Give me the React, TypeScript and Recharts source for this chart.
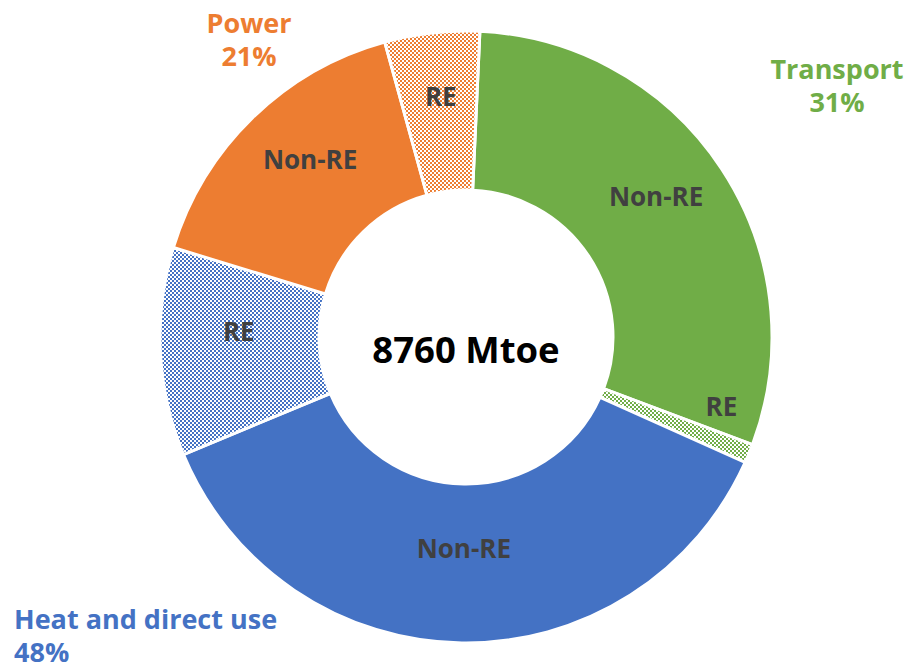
import { PieChart, Pie, Cell, Label } from 'recharts'

// ─── Data ────────────────────────────────────────────────────────────────────

const sectors = ['Transport', 'Heat and direct use', 'Power']
const sectorShares = [31, 48, 21]

const parts = ['Non-RE', 'RE', 'Non-RE', 'RE', 'Non-RE', 'RE']
const partSectors = ['Transport', 'Transport', 'Heat and direct use', 'Heat and direct use', 'Power', 'Power']
const partShares = [30, 1, 37, 11, 16, 5]

const totalLabel = '8760 Mtoe'

// ─── Styles ──────────────────────────────────────────────────────────────────

const FONT = '"Open Sans", "Noto Sans", sans-serif'
const SECTOR_COLOR: Record<string, string> = {
  'Transport': '#70AD47',
  'Heat and direct use': '#4472C4',
  'Power': '#ED7D31',
}
const PATTERN_ID: Record<string, string> = {
  'Transport': 'hatch-transport',
  'Heat and direct use': 'hatch-heat',
  'Power': 'hatch-power',
}

const sectorData = sectors.map((name, i) => ({ name, value: sectorShares[i] }))
const partData = parts.map((name, i) => ({ name, sector: partSectors[i], value: partShares[i] }))

const CX = 466
const CY = 337
const RAD = Math.PI / 180

// small label nudges (Excel puts the tiny transport RE label inside the big slice)
const PART_NUDGE: Array<[number, number]> = [
  [1, -16], [46, -17], [1, -15], [-1, -17], [2, -16], [0, -16],
]

function partLabel(props: any) {
  const { cx, cy, midAngle, innerRadius, outerRadius, index, name } = props
  const r = (innerRadius + outerRadius) / 2
  const [dx, dy] = PART_NUDGE[index] ?? [0, 0]
  const x = cx + r * Math.cos(-midAngle * RAD) + dx
  const y = cy + r * Math.sin(-midAngle * RAD) + dy
  return (
    <text x={x} y={y} textAnchor="middle" dominantBaseline="central"
      fill="#404040" fontFamily={FONT} fontWeight={700} fontSize={26}>
      {name}
    </text>
  )
}

// where the sector titles sit, relative to the pie centre
const SECTOR_LABEL_POS: Record<string, { dx: number; dy: number; anchor: 'start' | 'middle' }> = {
  'Transport': { dx: 371, dy: -269, anchor: 'middle' },
  'Heat and direct use': { dx: -452, dy: 281, anchor: 'start' },
  'Power': { dx: -217, dy: -315, anchor: 'middle' },
}

function sectorLabel(props: any) {
  const { cx, cy, name, value } = props
  const pos = SECTOR_LABEL_POS[name]
  if (!pos) return null
  const x = cx + pos.dx
  const y = cy + pos.dy
  return (
    <text x={x} y={y} textAnchor={pos.anchor} dominantBaseline="central"
      fill={SECTOR_COLOR[name]} fontFamily={FONT} fontWeight={700} fontSize={27}>
      <tspan x={x} dy={0}>{name}</tspan>
      <tspan x={x} dy={33}>{`${value}%`}</tspan>
    </text>
  )
}

function centerLabel(props: any) {
  const vb = props.viewBox ?? {}
  const cx = vb.cx ?? CX
  const cy = vb.cy ?? CY
  return (
    <text x={cx} y={cy + 12} textAnchor="middle" dominantBaseline="central"
      fill="#000" fontFamily={FONT} fontWeight={700} fontSize={36.5}>
      {totalLabel}
    </text>
  )
}

function Checker({ id, color }: { id: string; color: string }) {
  return (
    <pattern id={id} width={4} height={4} patternUnits="userSpaceOnUse">
      <rect x={0} y={0} width={4} height={4} fill="#fff" />
      <rect x={0} y={0} width={2} height={2} fill={color} />
      <rect x={2} y={2} width={2} height={2} fill={color} />
    </pattern>
  )
}

export default function App() {
  return (
    <div style={{ position: 'absolute', left: 0, top: 0, width: 913, height: 669, background: '#fff' }}>
      <PieChart width={913} height={669} margin={{ top: 0, right: 0, bottom: 0, left: 0 }}>
        <defs>
          {sectors.map(s => <Checker key={s} id={PATTERN_ID[s]} color={SECTOR_COLOR[s]} />)}
        </defs>
        <Pie
          data={partData}
          dataKey="value"
          nameKey="name"
          cx={CX}
          cy={CY}
          innerRadius={147}
          outerRadius={306}
          startAngle={87.4}
          endAngle={-272.6}
          stroke="#fff"
          strokeWidth={3}
          label={partLabel}
          labelLine={false}
          isAnimationActive={false}
        >
          {partData.map((d, i) => (
            <Cell key={i}
              fill={d.name === 'RE' ? `url(#${PATTERN_ID[d.sector]})` : SECTOR_COLOR[d.sector]} />
          ))}
          <Label position="center" content={centerLabel} />
        </Pie>
        <Pie
          data={sectorData}
          dataKey="value"
          nameKey="name"
          cx={CX}
          cy={CY}
          innerRadius={306}
          outerRadius={306}
          startAngle={87.4}
          endAngle={-272.6}
          fill="none"
          stroke="none"
          label={sectorLabel}
          labelLine={false}
          isAnimationActive={false}
        />
      </PieChart>
    </div>
  )
}
